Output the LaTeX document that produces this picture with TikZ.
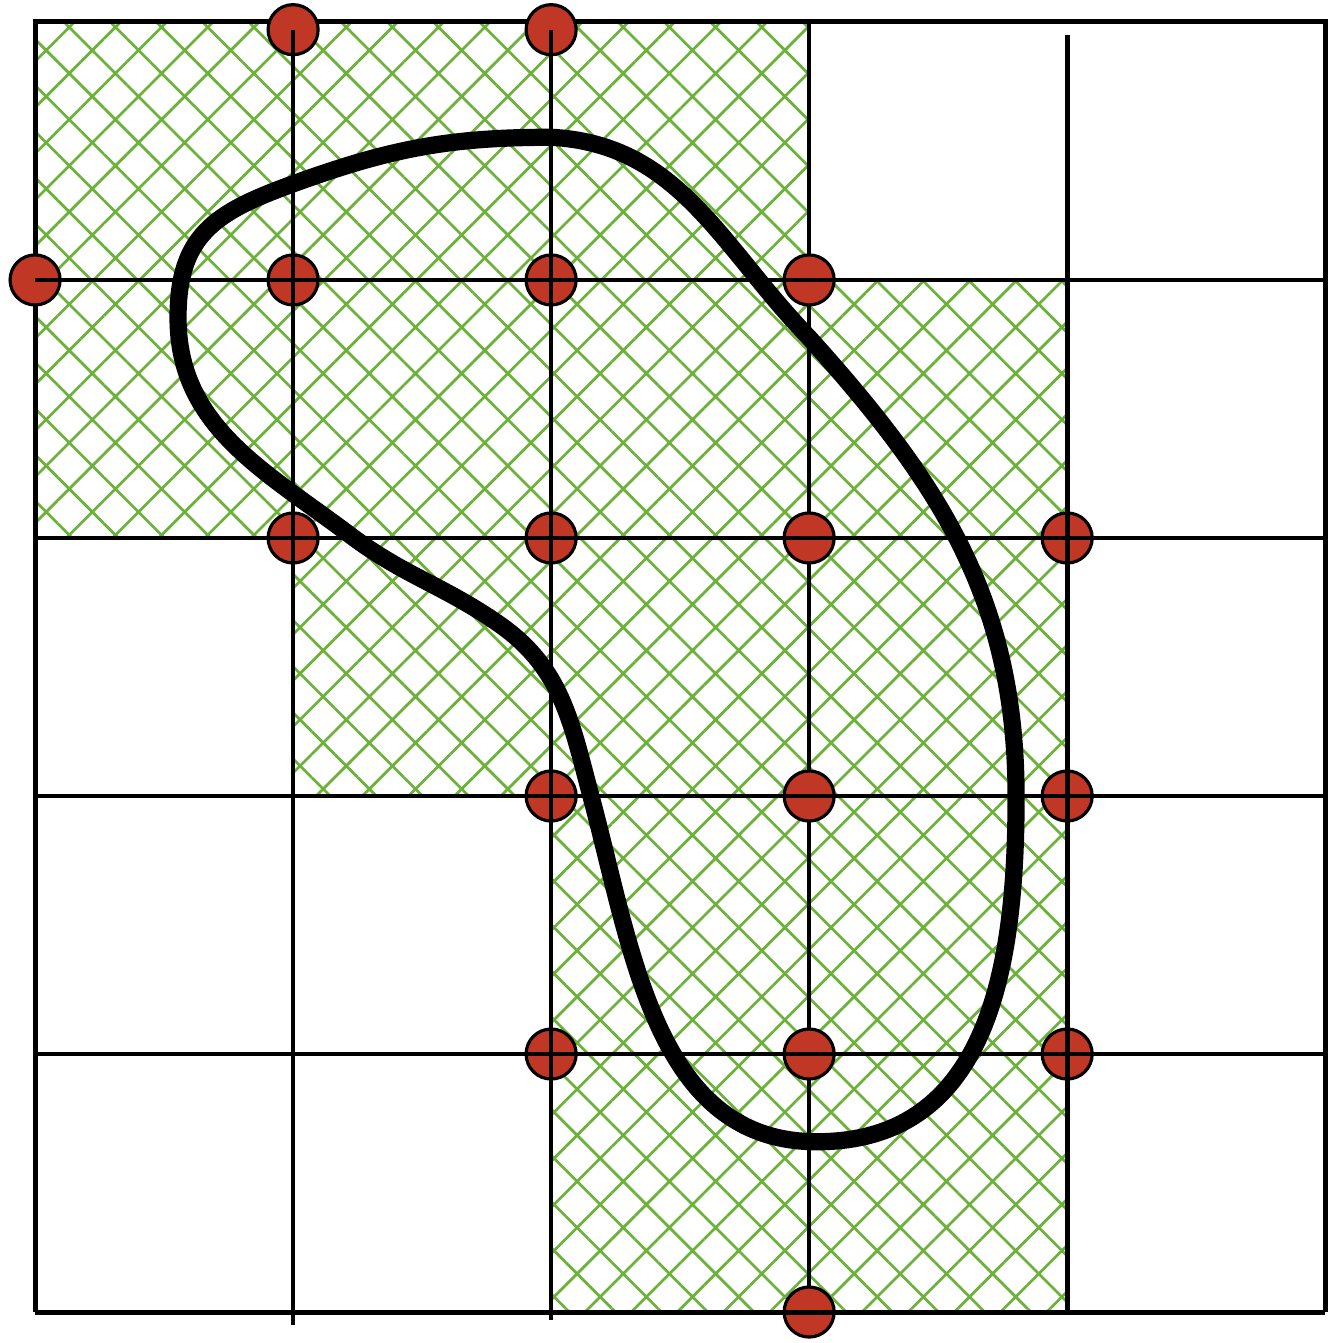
\documentclass[tikz,border=0pt]{standalone}
\usetikzlibrary{patterns.meta}
\definecolor{hatchgreen}{RGB}{108,178,58}
\definecolor{dotred}{RGB}{193,55,38}
\tikzset{gridline/.style={line width=.9pt},frame/.style={line width=1.1pt},
  hatch/.style={pattern={Hatch[angle=45,distance=7.2pt,line width=.6pt]},pattern color=hatchgreen},
  vertex/.style={fill=dotred,draw=black,line width=.7pt},blob/.style={line width=3.8pt,line join=round}}

\begin{document}
\begin{tikzpicture}[scale=2]
\useasboundingbox (-.136,-.120) rectangle (5.047,5.085);
\fill[hatch] (0,5)--(3,5)--(3,4)--(4,4)--(4,0)--(2,0)--(2,2)--(1,2)--(1,3)--(0,3)--cycle;
\draw[frame] (0,0)--(0,5)--(5,5)--(5,0);
\draw[gridline] (3,0)--(3,5);
\foreach \x/\y in {1/4.97,2/4.97,0/4,1/4,2/4,3/4,1/3,2/3,3/3,4/3,2/2,3/2,4/2,2/1,3/1,4/1,3/0}
  \filldraw[vertex] (\x,\y) circle (.097);
\draw[frame] (0,0)--(5,0);
\foreach \y in {1,...,4} \draw[gridline] (0,\y)--(5,\y);
\draw[gridline] (1,4.97)--(1,-.05);\draw[gridline] (2,4.97)--(2,-.03);
\draw[frame] (4,4.95)--(4,0);
\draw[blob] (2.0,4.553) to[out=-3,in=134] (3.0,3.776) to[out=-48,in=90] (3.802,1.997) to[out=-90,in=0,looseness=1.1] (3.03,.66)
  to[out=180,in=-75] (2.155,1.997) to[out=105,in=-35] (1.8,2.665) to[out=145,in=-37] (1.221,3.011) to[out=143,in=-90] (.554,3.854)
  to[out=90,in=200,looseness=1.2] (.996,4.371) to[out=20,in=180] cycle;
\end{tikzpicture}
\end{document}
